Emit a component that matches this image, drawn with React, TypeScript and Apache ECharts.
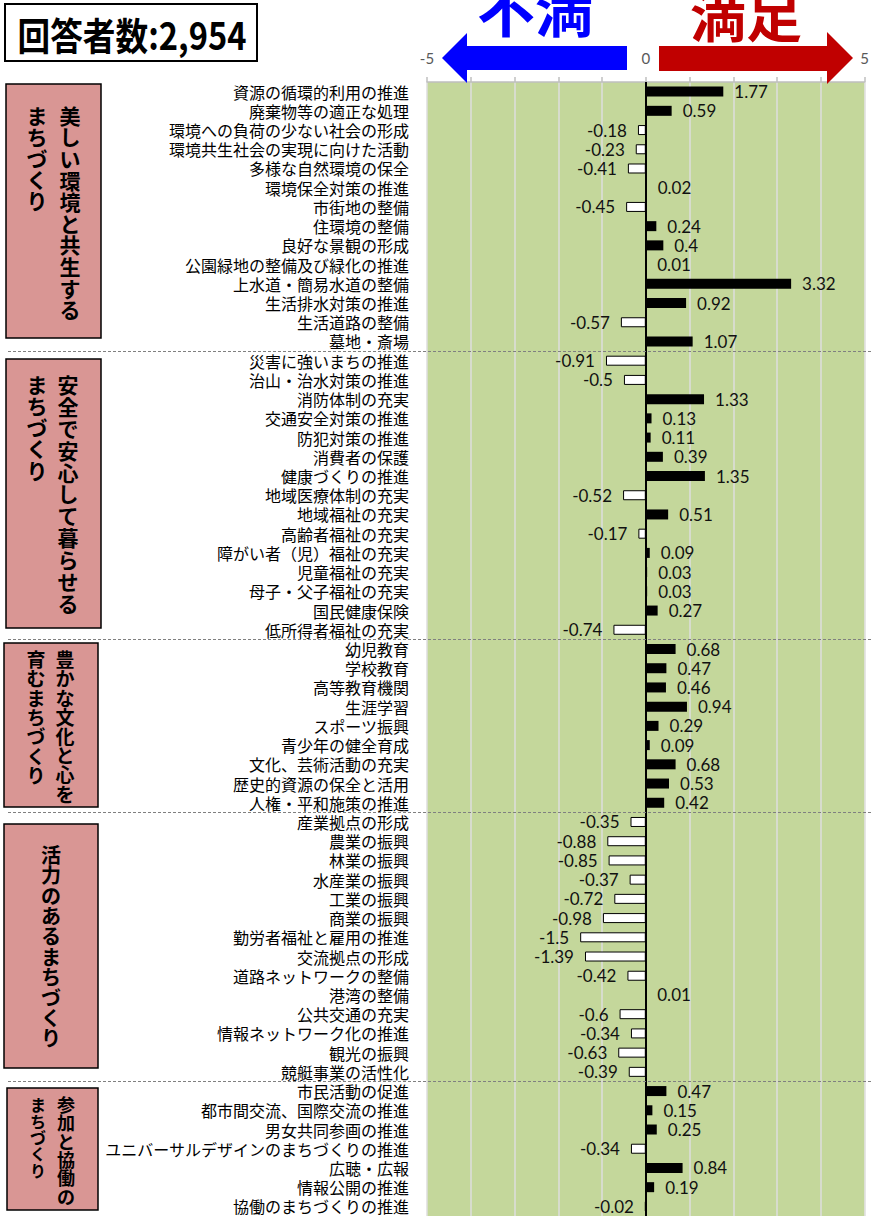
import React, { useEffect, useRef } from "react";
import * as echarts from "echarts";

const categories: string[] = [
  "資源の循環的利用の推進", "廃棄物等の適正な処理", "環境への負荷の少ない社会の形成", "環境共生社会の実現に向けた活動",
  "多様な自然環境の保全", "環境保全対策の推進", "市街地の整備", "住環境の整備", "良好な景観の形成",
  "公園緑地の整備及び緑化の推進", "上水道・簡易水道の整備", "生活排水対策の推進", "生活道路の整備", "墓地・斎場",
  "災害に強いまちの推進", "治山・治水対策の推進", "消防体制の充実", "交通安全対策の推進", "防犯対策の推進",
  "消費者の保護", "健康づくりの推進", "地域医療体制の充実", "地域福祉の充実", "高齢者福祉の充実",
  "障がい者（児）福祉の充実", "児童福祉の充実", "母子・父子福祉の充実", "国民健康保険", "低所得者福祉の充実",
  "幼児教育", "学校教育", "高等教育機関", "生涯学習", "スポーツ振興", "青少年の健全育成",
  "文化、芸術活動の充実", "歴史的資源の保全と活用", "人権・平和施策の推進",
  "産業拠点の形成", "農業の振興", "林業の振興", "水産業の振興", "工業の振興", "商業の振興",
  "勤労者福祉と雇用の推進", "交流拠点の形成", "道路ネットワークの整備", "港湾の整備", "公共交通の充実",
  "情報ネットワーク化の推進", "観光の振興", "競艇事業の活性化",
  "市民活動の促進", "都市間交流、国際交流の推進", "男女共同参画の推進", "ユニバーサルデザインのまちづくりの推進",
  "広聴・広報", "情報公開の推進", "協働のまちづくりの推進",
];

const values: number[] = [
  1.77, 0.59, -0.18, -0.23, -0.41, 0.02, -0.45, 0.24, 0.4, 0.01, 3.32, 0.92, -0.57, 1.07,
  -0.91, -0.5, 1.33, 0.13, 0.11, 0.39, 1.35, -0.52, 0.51, -0.17, 0.09, 0.03, 0.03, 0.27, -0.74,
  0.68, 0.47, 0.46, 0.94, 0.29, 0.09, 0.68, 0.53, 0.42,
  -0.35, -0.88, -0.85, -0.37, -0.72, -0.98, -1.5, -1.39, -0.42, 0.01, -0.6, -0.34, -0.63, -0.39,
  0.47, 0.15, 0.25, -0.34, 0.84, 0.19, -0.02,
];

const groupSizes: number[] = [14, 15, 9, 14, 7];

const axisTickLabels: number[] = [-5, 0, 5];

const titleText = "回答者数:2,954";
const leftArrowText = "不満";
const rightArrowText = "満足";

type Col = { x: number; y: number; text: string; fs: number; lh: number };
type Box = { x: number; y: number; w: number; h: number; cols: Col[] };

const groupBoxes: Box[] = [
  { x: 6, y: 84, w: 95, h: 254, cols: [
    { x: 70, y: 104, text: "美しい環境と共生する", fs: 21, lh: 21.6 },
    { x: 37, y: 104, text: "まちづくり", fs: 21, lh: 21.4 },
  ] },
  { x: 6, y: 359, w: 95, h: 269, cols: [
    { x: 68, y: 373, text: "安全で安心して暮らせる", fs: 21, lh: 21.9 },
    { x: 37, y: 373, text: "まちづくり", fs: 21, lh: 21.5 },
  ] },
  { x: 4, y: 643, w: 94, h: 164, cols: [
    { x: 65, y: 649, text: "豊かな文化と心を", fs: 19, lh: 19.2 },
    { x: 36, y: 649, text: "育むまちづくり", fs: 19, lh: 19.3 },
  ] },
  { x: 4, y: 824, w: 94, h: 244, cols: [
    { x: 51, y: 844, text: "活力のあるまちづくり", fs: 20, lh: 20.4 },
  ] },
  { x: 7, y: 1088, w: 91, h: 122, cols: [
    { x: 66, y: 1095, text: "参加と協働の", fs: 18, lh: 18.3 },
    { x: 38, y: 1096, text: "まちづくり", fs: 16, lh: 16.4 },
  ] },
];

const CJK = "'Noto Sans CJK JP', 'Noto Sans CJK SC', sans-serif";

export default function App() {
  const ref = useRef<HTMLDivElement>(null);

  useEffect(() => {
    if (!ref.current) return;
    const chart = echarts.init(ref.current, undefined, { renderer: "svg" });

    chart.setOption({
      animation: false,
      backgroundColor: "#ffffff",
      grid: {
        left: 427, right: 7, top: 82, bottom: 0,
        show: true, backgroundColor: "#C4D79B", borderWidth: 0,
      },
      xAxis: {
        type: "value", position: "top", min: -5, max: 5, interval: 1,
        axisLine: { show: true, onZero: false, lineStyle: { color: "#bfbfbf", width: 1.5 } },
        axisTick: { show: true, length: 5, lineStyle: { color: "#bfbfbf", width: 1.5 } },
        axisLabel: {
          showMinLabel: true, showMaxLabel: true,
          color: "#595959", fontSize: 15, margin: 17, fontFamily: "Lato, sans-serif",
          formatter: (v: number) => (axisTickLabels.indexOf(v) >= 0 ? String(v) : ""),
        },
        splitLine: { show: true, lineStyle: { color: "#dedede", width: 1.5 } },
      },
      yAxis: {
        type: "category", data: categories, inverse: true,
        axisLine: { show: false }, axisTick: { show: false },
        axisLabel: { interval: 0, fontSize: 16, color: "#000", margin: 18, fontFamily: CJK },
        splitLine: { show: false },
      },
      series: [
        {
          type: "bar",
          barWidth: 10,
          data: values.map((v) => ({
            value: v,
            itemStyle: v >= 0
              ? { color: "#000000" }
              : { color: "#ffffff", borderColor: "#000000", borderWidth: 1 },
            label: { position: v >= 0 ? "right" : "left" },
          })),
          label: {
            show: true, fontSize: 17, color: "#111", distance: 11,
            fontFamily: "Lato, sans-serif",
            formatter: (p: any) => String(p.value),
          },
          markLine: {
            silent: true, symbol: ["none", "none"], label: { show: false },
            lineStyle: { color: "#000", width: 2, type: "solid" },
            data: [{ xAxis: 0 }],
          },
        },
      ],
    });

    // separators between groups
    const lines: any[] = [];
    let idx = 0;
    for (let g = 0; g < groupSizes.length - 1; g++) {
      idx += groupSizes[g];
      const y1 = chart.convertToPixel({ yAxisIndex: 0 }, categories[idx - 1]) as number;
      const y2 = chart.convertToPixel({ yAxisIndex: 0 }, categories[idx]) as number;
      const y = Math.round((y1 + y2) / 2) + 0.5;
      lines.push({
        type: "line", z: 100,
        shape: { x1: 8, y1: y, x2: 872, y2: y },
        style: { stroke: "#808080", lineWidth: 1, lineDash: [3, 2] },
      });
    }

    const boxes: any[] = [];
    groupBoxes.forEach((b) => {
      boxes.push({
        type: "rect", z: 90,
        shape: { x: b.x, y: b.y, width: b.w, height: b.h },
        style: { fill: "#D99694", stroke: "#000", lineWidth: 1.5 },
      });
      b.cols.forEach((c) => {
        boxes.push({
          type: "text", z: 91, x: c.x, y: c.y,
          style: {
            text: c.text.split("").join("\n"),
            fontSize: c.fs, fontWeight: "bold", fontFamily: CJK,
            lineHeight: c.lh, fill: "#000", align: "center", verticalAlign: "top",
          },
        });
      });
    });

    chart.setOption({
      graphic: [
        {
          type: "rect", z: 90,
          shape: { x: 5, y: 4, width: 252, height: 57 },
          style: { fill: "#fff", stroke: "#000", lineWidth: 2 },
        },
        {
          type: "text", z: 91, x: 132, y: 33, scaleX: 0.86,
          style: {
            text: titleText, fontSize: 38, fontWeight: "bold", fontFamily: CJK,
            fill: "#000", align: "center", verticalAlign: "middle",
          },
        },
        {
          type: "polygon", z: 80,
          shape: { points: [[442, 58], [467, 33], [467, 46], [627, 46], [627, 70], [467, 70], [467, 83]] },
          style: { fill: "#0000FF" },
        },
        {
          type: "polygon", z: 80,
          shape: { points: [[853, 58], [827, 32], [827, 46], [659, 46], [659, 71], [827, 71], [827, 84]] },
          style: { fill: "#C00000" },
        },
        {
          type: "text", z: 81, x: 535, y: 7,
          style: {
            text: leftArrowText, fontSize: 58, fontWeight: "bold", fontFamily: CJK,
            fill: "#0000FF", align: "center", verticalAlign: "middle",
          },
        },
        {
          type: "text", z: 81, x: 746, y: 12,
          style: {
            text: rightArrowText, fontSize: 56, fontWeight: "bold", fontFamily: CJK,
            fill: "#C00000", align: "center", verticalAlign: "middle",
          },
        },
        ...lines,
        ...boxes,
      ],
    });

    return () => chart.dispose();
  }, []);

  return (
    <div
      ref={ref}
      style={{ position: "absolute", left: 0, top: 0, width: 872, height: 1216 }}
    />
  );
}
